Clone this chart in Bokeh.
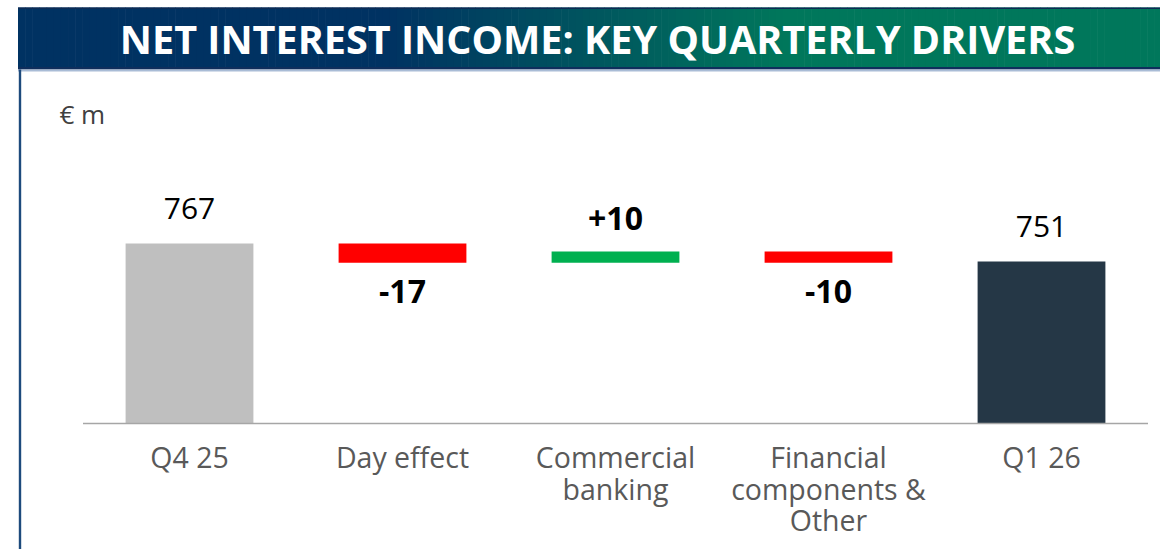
import numpy as np
from bokeh.plotting import figure
from bokeh.models import Range1d, ColumnDataSource
from bokeh.core.properties import value
from bokeh.embed import file_html
from bokeh.resources import INLINE

# ---------------- data ----------------
categories = ["Q4 25", "Day effect", "Commercial\nbanking",
              "Financial\ncomponents &\nOther", "Q1 26"]
start_value = 767
deltas = [-17, 10, -10]
delta_labels = ["-17", "+10", "-10"]
end_value = 751
title_text = "NET INTEREST INCOME: KEY QUARTERLY DRIVERS"
unit_text = "€ m"

# ---------------- layout constants (page pixels) ----------------
W, H = 1160, 549
CAT0_PX, CAT_STEP = 189, 213          # centre of first category, spacing
BASE_PX, PX_PER_UNIT = 423, 1.125     # baseline row and vertical scale
BASE_VALUE = 607                      # value at the (broken) baseline

def X(px):
    return (px - CAT0_PX) / CAT_STEP

def Y(py):
    return BASE_VALUE + (BASE_PX - py) / PX_PER_UNIT

p = figure(width=W, height=H,
           x_range=Range1d(X(0), X(W)),
           y_range=Range1d(Y(H), Y(0)),
           x_axis_type=None, y_axis_type=None,
           output_backend="svg", toolbar_location=None,
           min_border=0, min_border_left=0, min_border_right=0,
           min_border_top=0, min_border_bottom=0)
p.grid.visible = False
p.outline_line_color = None
p.background_fill_color = "white"
p.border_fill_color = "white"

FONT = value("Open Sans")

# ---------------- header band with gradient ----------------
navy = np.array([0, 50, 98])
green = np.array([0, 119, 91])
n_strips = 160
edges = np.linspace(17.5, W + 1, n_strips + 1)
centres = (edges[:-1] + edges[1:]) / 2
t = np.clip((centres - 385) / (785 - 385), 0, 1)
cols = ["#%02x%02x%02x" % tuple(int(round(c)) for c in navy * (1 - ti) + green * ti) for ti in t]
p.quad(left=[X(e) for e in edges[:-1]], right=[X(e + 0.6) for e in edges[1:]],
       top=Y(7), bottom=Y(67), fill_color=cols, line_color=None)
# header borders
p.quad(left=X(17.5), right=X(W + 1), top=Y(7), bottom=Y(8.5),
       fill_color="#0d2b55", line_color=None)
p.quad(left=X(17.5), right=X(W + 1), top=Y(66.5), bottom=Y(69),
       fill_color="#0f2e5c", line_color=None)
p.quad(left=X(17.5), right=X(W + 1), top=Y(69), bottom=Y(71),
       fill_color="#a9bcd6", line_color=None)
# left vertical frame line
p.quad(left=X(18.3), right=X(20.7), top=Y(69), bottom=Y(H + 1),
       fill_color="#1d4a7c", line_color=None)

p.text(x=[X(597)], y=[Y(11.8)], text=[title_text], text_font=FONT,
       text_font_style="bold", text_font_size="39.6px", text_color="white",
       text_align="center", text_baseline="top")
p.text(x=[X(59)], y=[Y(95)], text=[unit_text], text_font=FONT,
       text_font_size="26px", text_color="#404040",
       text_align="left", text_baseline="top")

# ---------------- waterfall ----------------
idx = list(range(len(categories)))
levels = [start_value]
for d in deltas:
    levels.append(levels[-1] + d)

TOTAL_GAP = 46 / PX_PER_UNIT      # text box top above bar top
UP_GAP = 44 / PX_PER_UNIT         # text box top above positive bar
DOWN_GAP = 17.6 / PX_PER_UNIT     # text box top below negative bar

tot_src = ColumnDataSource(dict(
    x=[idx[0], idx[-1]],
    top=[start_value, end_value],
    bottom=[BASE_VALUE, BASE_VALUE],
    color=["#bfbfbf", "#253746"],
    label=[str(start_value), str(end_value)],
    ly=[start_value + TOTAL_GAP, end_value + TOTAL_GAP],
))
p.vbar(x="x", top="top", bottom="bottom", width=0.6, fill_color="color",
       line_color=None, source=tot_src)
p.text(x="x", y="ly", text="label", source=tot_src, text_font=FONT,
       text_font_size="30px", text_color="black", text_align="center",
       text_baseline="top")

d_x, d_top, d_bot, d_col, d_ly = [], [], [], [], []
for i, d in enumerate(deltas):
    prev, new = levels[i], levels[i + 1]
    d_x.append(idx[i + 1])
    d_top.append(max(prev, new))
    d_bot.append(min(prev, new))
    d_col.append("#00b050" if d > 0 else "#ff0000")
    if d > 0:
        d_ly.append(max(prev, new) + UP_GAP)
    else:
        d_ly.append(min(prev, new) - DOWN_GAP)
d_src = ColumnDataSource(dict(x=d_x, top=d_top, bottom=d_bot, color=d_col,
                              label=delta_labels, ly=d_ly))
p.vbar(x="x", top="top", bottom="bottom", width=0.6, fill_color="color",
       line_color=None, source=d_src)
p.text(x="x", y="ly", text="label", source=d_src, text_font=FONT,
       text_font_style="bold", text_font_size="32px", text_color="black",
       text_align="center", text_baseline="top")

# baseline
p.segment(x0=[idx[0] - 0.5], x1=[idx[-1] + 0.5], y0=[BASE_VALUE], y1=[BASE_VALUE],
          line_color="#a6a6a6", line_width=1.5)

# category labels
p.text(x=idx, y=[Y(437.9)] * len(idx), text=categories, text_font=FONT,
       text_font_size="28.5px", text_color="#595959", text_align="center",
       text_baseline="top", text_line_height=0.824)

open("out.html", "w").write(file_html(p, INLINE))
